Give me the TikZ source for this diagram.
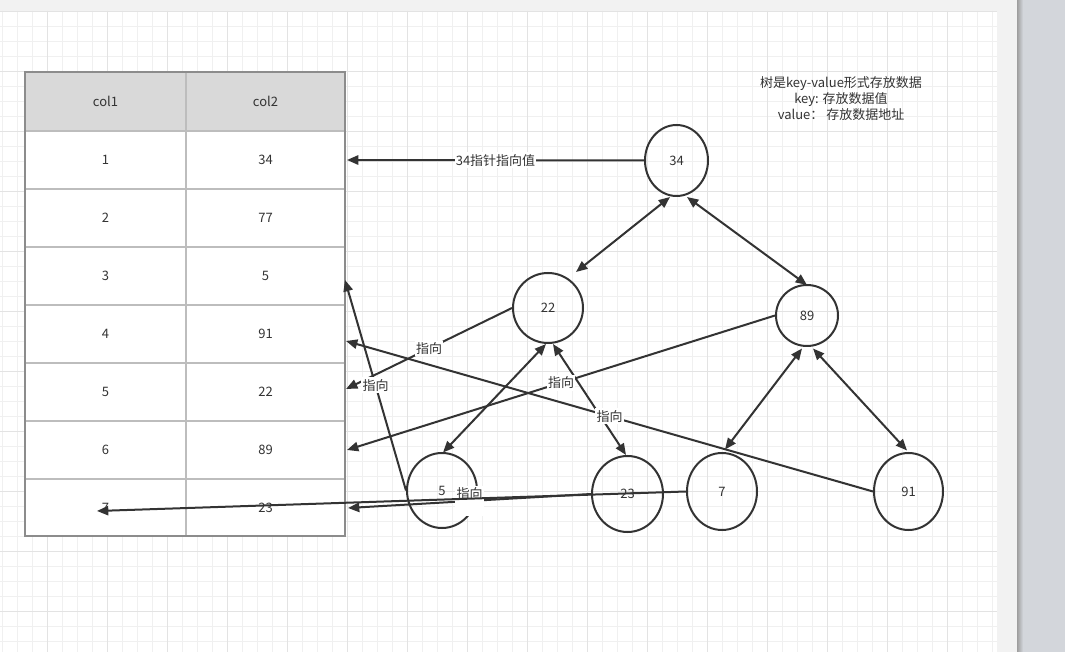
\documentclass[tikz,border=0pt]{standalone}
\usepackage{fontspec}
\setmainfont{Noto Sans CJK SC}
\usetikzlibrary{arrows.meta,shapes.geometric}

\definecolor{ink}{HTML}{333333}
\definecolor{chrome}{HTML}{F2F2F2}
\definecolor{gridminor}{HTML}{F0F0F0}
\definecolor{gridmajor}{HTML}{E3E3E3}
\definecolor{headfill}{HTML}{D9D9D9}
\definecolor{tableouter}{HTML}{8C8C8C}
\definecolor{tableinner}{HTML}{BDBDBD}
\definecolor{bandedge}{HTML}{9E9E9E}
\definecolor{bandfill}{HTML}{D3D6DB}

\tikzset{
  minorline/.style={draw=gridminor, line width=0.75pt},
  majorline/.style={draw=gridmajor, line width=0.75pt},
  celltext/.style={text=ink, inner sep=0pt},
  bubble/.style={ellipse, draw=ink, line width=1.5pt, inner sep=0pt, text=ink},
  conn/.style={draw=ink, line width=1.5pt, -{Triangle[length=8.5pt,width=7pt]}},
  biconn/.style={draw=ink, line width=1.5pt, {Triangle[length=8.5pt,width=7pt]}-{Triangle[length=8.5pt,width=7pt]}},
  lbl/.style={fill=white, text=ink, inner xsep=0.8pt, inner ysep=1.5pt},
}

\begin{document}
\begin{tikzpicture}[x=0.75pt, y=-0.75pt, font=\fontsize{9.75}{12}\selectfont]
\useasboundingbox (0,0) rectangle (1065,652);

% window chrome and page
\fill[chrome] (0,0) rectangle (1065,652);
\fill[white] (0,11) rectangle (997,652);
\shade[left color=bandedge, right color=bandfill] (1017,0) rectangle (1023,652);
\fill[bandfill] (1023,0) rectangle (1065,652);

% background grid
\foreach \gx in {2.3,17.3,...,992.3} \draw[minorline] (\gx,11) -- (\gx,652);
\foreach \gy in {11.7,26.7,...,641.7} \draw[minorline] (0,\gy) -- (997,\gy);
\foreach \gx in {47.3,107.3,...,947.3} \draw[majorline] (\gx,11) -- (\gx,652);
\foreach \gy in {11.7,71.7,...,611.7} \draw[majorline] (0,\gy) -- (997,\gy);

% table
\fill[white] (25,72) rectangle (345,536);
\fill[headfill] (25,72) rectangle (345,131);
\foreach \ry in {131,189,247,305,363,421,479}
  \draw[tableinner, line width=1.1pt] (25,\ry) -- (345,\ry);
\draw[tableinner, line width=1.1pt] (186,72) -- (186,536);
\draw[tableouter, line width=1.5pt] (25,72) rectangle (345,536);

\node[celltext] (h1) at (105.5,101.5) {col1};
\node[celltext] (h2) at (265.5,101.5) {col2};
\node[celltext] (a1) at (105.5,160) {1};
\node[celltext] (b1) at (265.5,160) {34};
\node[celltext] (a2) at (105.5,218) {2};
\node[celltext] (b2) at (265.5,218) {77};
\node[celltext] (a3) at (105.5,276) {3};
\node[celltext] (b3) at (265.5,276) {5};
\node[celltext] (a4) at (105.5,334) {4};
\node[celltext] (b4) at (265.5,334) {91};
\node[celltext] (a5) at (105.5,392) {5};
\node[celltext] (b5) at (265.5,392) {22};
\node[celltext] (a6) at (105.5,450) {6};
\node[celltext] (b6) at (265.5,450) {89};
\node[celltext] (a7) at (105.5,507.5) {7};
\node[celltext] (b7) at (265.5,507.5) {23};

% arrow targets on the table
\coordinate (t1) at (347,160);
\coordinate (t3) at (345,280);
\coordinate (t4) at (346,341);
\coordinate (t5) at (346,389);
\coordinate (t6) at (347,450);
\coordinate (t7b) at (348,508);
\coordinate (t7a) at (97,511);

% note
\node[align=center, text=ink, inner sep=0pt] (note) at (841,99)
  {树是key-value形式存放数据\\key: 存放数据值\\value： 存放数据地址};

% tree nodes
\node[bubble, minimum width=47.25pt, minimum height=53.25pt] (n34) at (676.5,160.5) {34};
\node[bubble, minimum width=52.5pt,  minimum height=52.5pt]  (n22) at (548,308) {22};
\node[bubble, minimum width=46.5pt,  minimum height=45.75pt] (n89) at (807,315.5) {89};
\node[bubble, minimum width=52.5pt,  minimum height=56.25pt] (n5)  at (442,490.5) {5};
\node[bubble, minimum width=53.25pt, minimum height=57pt]    (n23) at (627.5,494) {23};
\node[bubble, minimum width=52.5pt,  minimum height=57.75pt] (n7)  at (722,491.5) {7};
\node[bubble, minimum width=51.75pt, minimum height=57.75pt] (n91) at (908.5,491.5) {91};

% tree links
\draw[biconn] ([shift={(-6.5,36.5)}]n34.center) -- ([shift={(28,-36)}]n22.center);
\draw[biconn] ([shift={(10.5,36.5)}]n34.center) -- ([shift={(0,-30.5)}]n89.center);
\draw[biconn] ([shift={(-5,33)}]n89.center) -- ([shift={(3,-42)}]n7.center);
\draw[biconn] ([shift={(6,33)}]n89.center) -- ([shift={(-1.5,-41)}]n91.center);
\draw[biconn] ([shift={(-2,36)}]n22.center) -- ([shift={(1,-38)}]n5.center);
\draw[biconn] ([shift={(5,36)}]n22.center) -- ([shift={(-1.5,-39)}]n23.center);

% pointers into the table
\draw[conn] (n34.west) -- node[lbl] (l1) {34指针指向值} (t1);
\draw[conn] (n22.west) -- node[lbl] (l5) {指向} (t5);
\draw[conn] (n89.west) -- node[lbl] (l6) {指向} (t6);
\draw[conn] (n5.west)  -- node[lbl] (l3) {指向} (t3);
\draw[conn] (n91.west) -- node[lbl] (l4) {指向} (t4);
\draw[conn] (n23.west) -- node[lbl, align=center] (l7) {指向\\\mbox{}} (t7b);
\draw[conn] (n7.west)  -- (t7a);

\end{tikzpicture}
\end{document}
